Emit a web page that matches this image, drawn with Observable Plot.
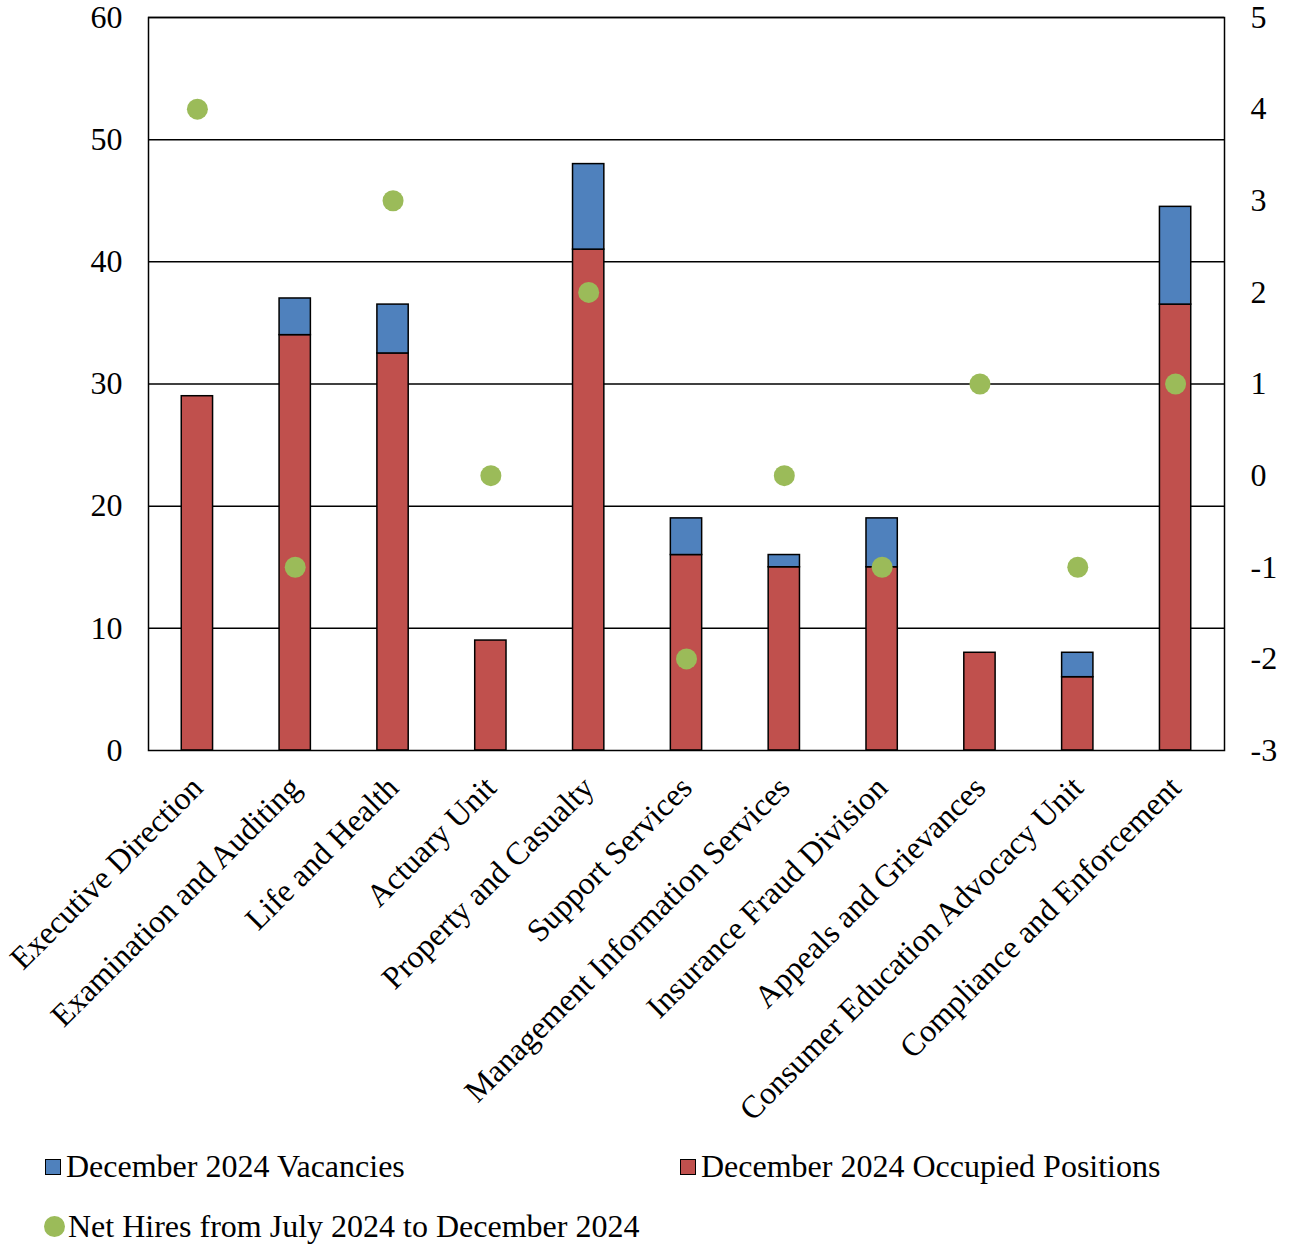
<!DOCTYPE html>
<html>
<head>
<meta charset="utf-8">
<script src="https://cdn.jsdelivr.net/npm/d3@7"></script>
<script src="https://cdn.jsdelivr.net/npm/@observablehq/plot@0.6"></script>
<style>
  body { margin: 0; background: white; font-family: "Liberation Serif", "Times New Roman", serif; }
  #wrap { position: relative; width: 1289px; height: 1247px; }
  .leg { position: absolute; font-size: 32px; color: #000; display: flex; align-items: center; white-space: nowrap; }
  .sw { display: inline-block; width: 14px; height: 14px; border: 1.5px solid #000; margin-right: 5px; }
  .dotsw { display: inline-block; width: 21px; height: 21px; border-radius: 50%; background: #9BBB59; margin-right: 3px; }
</style>
</head>
<body>
<div id="wrap">
  <div id="chart"></div>
  <div class="leg" style="left:45px; top:1148px;"><span class="sw" style="background:#4F81BD"></span>December 2024 Vacancies</div>
  <div class="leg" style="left:680px; top:1148px;"><span class="sw" style="background:#C0504D"></span>December 2024 Occupied Positions</div>
  <div class="leg" style="left:44px; top:1208px;"><span class="dotsw"></span>Net Hires from July 2024 to December 2024</div>
</div>
<script>
const categories = [
  "Executive Direction",
  "Examination and Auditing",
  "Life and Health",
  "Actuary Unit",
  "Property and Casualty",
  "Support Services",
  "Management Information Services",
  "Insurance Fraud Division",
  "Appeals and Grievances",
  "Consumer Education Advocacy Unit",
  "Compliance and Enforcement"
];
const occupied = [29, 34, 32.5, 9, 41, 16, 15, 15, 8, 6, 36.5];
const vacancies = [0, 3, 4, 0, 7, 3, 1, 4, 0, 2, 8];
const netHires = [4, -1, 3, 0, 2, -2, 0, -1, 1, -1, 1];

const leftTicks = [0, 10, 20, 30, 40, 50, 60];
const rightTicks = [-3, -2, -1, 0, 1, 2, 3, 4, 5];

// right axis (-3..5) mapped onto left axis (0..60)
const rMin = -3, rMax = 5, lMax = 60;
const toLeft = v => (v - rMin) / (rMax - rMin) * lMax;
const toRight = y => Math.round(y / lMax * (rMax - rMin) + rMin);

const rows = categories.map((c, i) => ({
  cat: c, occ: occupied[i], vac: vacancies[i], total: occupied[i] + vacancies[i], net: netHires[i]
}));

const chart = Plot.plot({
  width: 1289,
  height: 1130,
  marginLeft: 148,
  marginRight: 65,
  marginTop: 17,
  marginBottom: 380,
  style: { fontFamily: "Liberation Serif, Times New Roman, serif", fontSize: "32px", background: "white", color: "#000" },
  x: { type: "band", domain: categories, paddingInner: 0.68, paddingOuter: 0.34, round: false },
  y: { domain: [0, 60], nice: false },
  marks: [
    Plot.ruleY(leftTicks.filter(d => d > 0), { stroke: "#000", strokeWidth: 1.5 }),
    Plot.barY(rows, { x: "cat", y1: 0, y2: "occ", fill: "#C0504D", stroke: "#000", strokeWidth: 1.5 }),
    Plot.barY(rows.filter(d => d.vac > 0), { x: "cat", y1: "occ", y2: "total", fill: "#4F81BD", stroke: "#000", strokeWidth: 1.5 }),
    Plot.dot(rows, { x: "cat", y: d => toLeft(d.net), r: 10.5, fill: "#9BBB59", stroke: "none" }),
    Plot.frame({ stroke: "#000", strokeWidth: 1.5 }),
    Plot.axisY({ anchor: "left", ticks: leftTicks, tickSize: 0, tickPadding: 26, label: null, fontSize: 32 }),
    Plot.axisY({ anchor: "right", ticks: rightTicks.map(toLeft), tickFormat: toRight, tickSize: 0, tickPadding: 26, label: null, fontSize: 32 }),
    Plot.axisX({ tickRotate: -45, tickSize: 0, tickPadding: 32, label: null, fontSize: 32 })
  ]
});
document.getElementById("chart").appendChild(chart);
</script>
</body>
</html>
